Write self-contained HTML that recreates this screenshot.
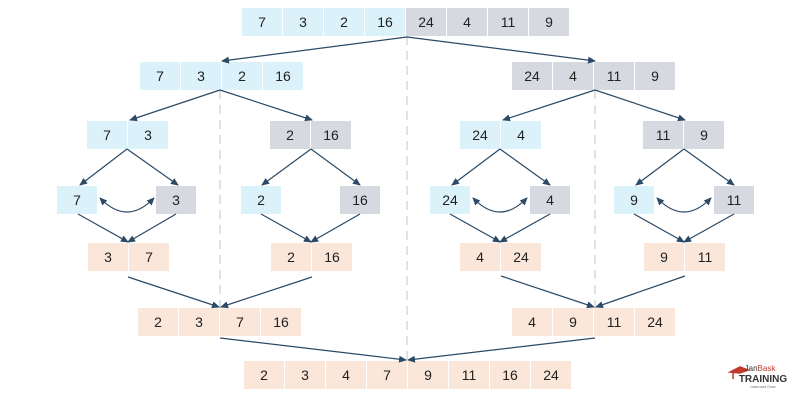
<!DOCTYPE html>
<html><head><meta charset="utf-8"><style>
body{margin:0;background:#fff;width:801px;height:400px;overflow:hidden}
svg text{font-family:"Liberation Sans",sans-serif;font-size:14px;fill:#222;text-anchor:middle}
</style></head><body>
<svg width="801" height="400" viewBox="0 0 801 400" xmlns="http://www.w3.org/2000/svg">
<defs><marker id="a" markerWidth="8" markerHeight="8" refX="7" refY="4" orient="auto-start-reverse" markerUnits="userSpaceOnUse"><path d="M0,0.5 L8,4 L0,7.5 z" fill="#2b4a66"/></marker></defs>
<g stroke="#c4c4c4" stroke-width="1" stroke-dasharray="9,6">
<line x1="407" y1="36" x2="407" y2="360"/><line x1="220" y1="90" x2="220" y2="308"/><line x1="595" y1="90" x2="595" y2="308"/>
</g>
<g fill="#dcf2fb">
<rect x="242" y="8" width="40" height="28"/><rect x="283" y="8" width="40" height="28"/><rect x="324" y="8" width="40" height="28"/><rect x="365" y="8" width="40" height="28"/>
<rect x="140" y="62" width="40" height="28"/><rect x="181" y="62" width="40" height="28"/><rect x="222" y="62" width="40" height="28"/><rect x="263" y="62" width="40" height="28"/>
<rect x="87" y="121" width="40" height="28"/><rect x="128" y="121" width="40" height="28"/>
<rect x="460" y="121" width="40" height="28"/><rect x="501" y="121" width="40" height="28"/>
<rect x="57" y="186" width="40" height="28"/><rect x="241" y="186" width="40" height="28"/><rect x="430" y="186" width="40" height="28"/><rect x="614" y="186" width="40" height="28"/>
</g>
<g fill="#d6dae0">
<rect x="406" y="8" width="40" height="28"/><rect x="447" y="8" width="40" height="28"/><rect x="488" y="8" width="40" height="28"/><rect x="529" y="8" width="40" height="28"/>
<rect x="512" y="62" width="40" height="28"/><rect x="553" y="62" width="40" height="28"/><rect x="594" y="62" width="40" height="28"/><rect x="635" y="62" width="40" height="28"/>
<rect x="270" y="121" width="40" height="28"/><rect x="311" y="121" width="40" height="28"/>
<rect x="643" y="121" width="40" height="28"/><rect x="684" y="121" width="40" height="28"/>
<rect x="156" y="186" width="40" height="28"/><rect x="340" y="186" width="40" height="28"/><rect x="530" y="186" width="40" height="28"/><rect x="714" y="186" width="40" height="28"/>
</g>
<g fill="#fbe7da">
<rect x="88" y="243" width="40" height="28"/><rect x="129" y="243" width="40" height="28"/>
<rect x="271" y="243" width="40" height="28"/><rect x="312" y="243" width="40" height="28"/>
<rect x="460" y="243" width="40" height="28"/><rect x="501" y="243" width="40" height="28"/>
<rect x="644" y="243" width="40" height="28"/><rect x="685" y="243" width="40" height="28"/>
<rect x="138" y="308" width="40" height="28"/><rect x="179" y="308" width="40" height="28"/><rect x="220" y="308" width="40" height="28"/><rect x="261" y="308" width="40" height="28"/>
<rect x="512" y="308" width="40" height="28"/><rect x="553" y="308" width="40" height="28"/><rect x="594" y="308" width="40" height="28"/><rect x="635" y="308" width="40" height="28"/>
<rect x="244" y="361" width="40" height="28"/><rect x="285" y="361" width="40" height="28"/><rect x="326" y="361" width="40" height="28"/><rect x="367" y="361" width="40" height="28"/><rect x="408" y="361" width="40" height="28"/><rect x="449" y="361" width="40" height="28"/><rect x="490" y="361" width="40" height="28"/><rect x="531" y="361" width="40" height="28"/>
</g>
<g>
<text x="262" y="27">7</text><text x="303" y="27">3</text><text x="344" y="27">2</text><text x="385" y="27">16</text><text x="426" y="27">24</text><text x="467" y="27">4</text><text x="508" y="27">11</text><text x="549" y="27">9</text>
<text x="160" y="81">7</text><text x="201" y="81">3</text><text x="242" y="81">2</text><text x="283" y="81">16</text>
<text x="532" y="81">24</text><text x="573" y="81">4</text><text x="614" y="81">11</text><text x="655" y="81">9</text>
<text x="107" y="140">7</text><text x="148" y="140">3</text><text x="290" y="140">2</text><text x="331" y="140">16</text>
<text x="480" y="140">24</text><text x="521" y="140">4</text><text x="663" y="140">11</text><text x="704" y="140">9</text>
<text x="77" y="205">7</text><text x="176" y="205">3</text><text x="261" y="205">2</text><text x="360" y="205">16</text>
<text x="450" y="205">24</text><text x="550" y="205">4</text><text x="634" y="205">9</text><text x="734" y="205">11</text>
<text x="108" y="262">3</text><text x="149" y="262">7</text><text x="291" y="262">2</text><text x="332" y="262">16</text>
<text x="480" y="262">4</text><text x="521" y="262">24</text><text x="664" y="262">9</text><text x="705" y="262">11</text>
<text x="158" y="327">2</text><text x="199" y="327">3</text><text x="240" y="327">7</text><text x="281" y="327">16</text>
<text x="532" y="327">4</text><text x="573" y="327">9</text><text x="614" y="327">11</text><text x="655" y="327">24</text>
<text x="264" y="380">2</text><text x="305" y="380">3</text><text x="346" y="380">4</text><text x="387" y="380">7</text><text x="428" y="380">9</text><text x="469" y="380">11</text><text x="510" y="380">16</text><text x="551" y="380">24</text>
</g>
<g stroke="#2b4a66" stroke-width="1.2" fill="none" marker-end="url(#a)">
<line x1="407" y1="37" x2="222" y2="61"/><line x1="407" y1="37" x2="595" y2="61"/>
<line x1="220" y1="90" x2="130" y2="120"/><line x1="220" y1="90" x2="312" y2="120"/>
<line x1="595" y1="90" x2="503" y2="120"/><line x1="595" y1="90" x2="685" y2="120"/>
<line x1="127" y1="149" x2="80" y2="185"/><line x1="127" y1="149" x2="178" y2="185"/>
<line x1="311" y1="149" x2="262" y2="185"/><line x1="311" y1="149" x2="360" y2="185"/>
<line x1="500" y1="149" x2="452" y2="185"/><line x1="500" y1="149" x2="550" y2="185"/>
<line x1="684" y1="149" x2="636" y2="185"/><line x1="684" y1="149" x2="734" y2="185"/>
<line x1="78" y1="214" x2="128" y2="242"/><line x1="176" y1="214" x2="128" y2="242"/>
<line x1="261" y1="214" x2="311" y2="242"/><line x1="360" y1="214" x2="311" y2="242"/>
<line x1="450" y1="214" x2="500" y2="242"/><line x1="550" y1="214" x2="500" y2="242"/>
<line x1="634" y1="214" x2="684" y2="242"/><line x1="734" y1="214" x2="684" y2="242"/>
<line x1="128" y1="277" x2="219" y2="307"/><line x1="312" y1="277" x2="221" y2="307"/>
<line x1="501" y1="276" x2="594" y2="307"/><line x1="685" y1="276" x2="596" y2="307"/>
<line x1="220" y1="338" x2="406" y2="360"/><line x1="595" y1="338" x2="408" y2="360"/>
<path d="M100,198 Q127,226 154,198" marker-start="url(#a)"/>
<path d="M473,198 Q500,226 527,198" marker-start="url(#a)"/>
<path d="M657,198 Q684,226 711,198" marker-start="url(#a)"/>
</g>
<g font-family="Liberation Sans,sans-serif">
<path d="M730,372 l10,-5 l8,3 l-8,3 z M733,373 l0,6" stroke="#c0392b" fill="#c0392b" stroke-width="1.5"/>
<text x="760" y="371" style="font-size:8px;fill:#333">Jan<tspan fill="#c0392b">Bask</tspan></text>
<text x="763" y="382" style="font-size:10px;font-weight:bold;fill:#333">TRAINING</text>
<text x="763" y="388" style="font-size:3.5px;fill:#666">Learn and Grow</text>
</g>
</svg>
</body></html>
